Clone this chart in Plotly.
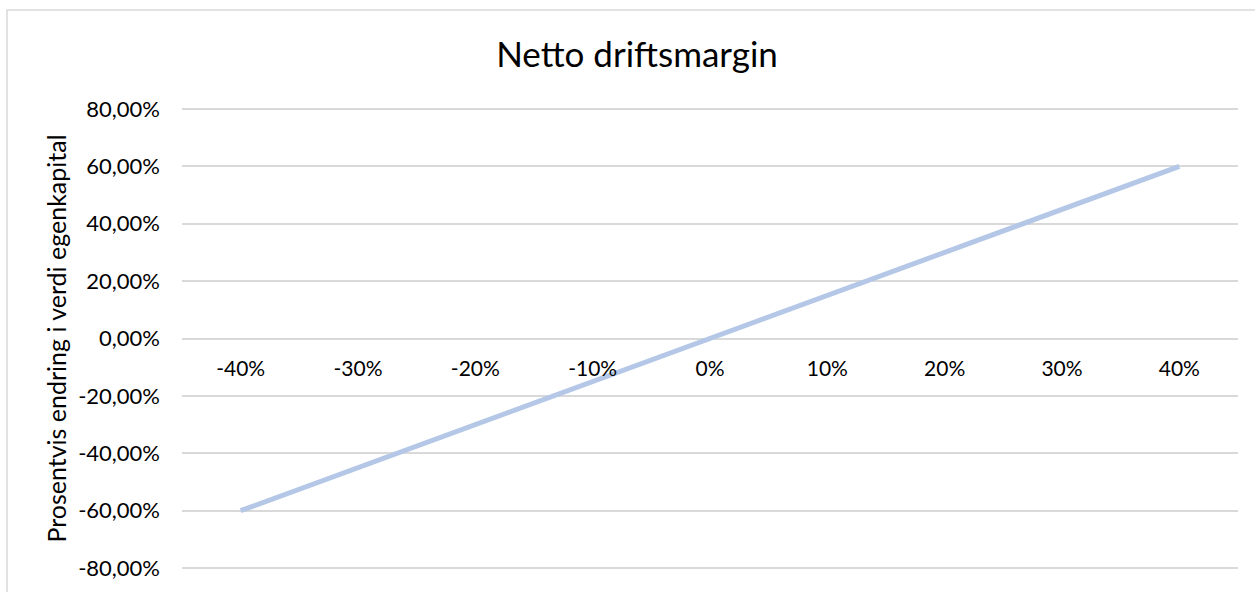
import plotly.graph_objects as go

categories = ["-40%", "-30%", "-20%", "-10%", "0%", "10%", "20%", "30%", "40%"]
values = [-0.60, -0.45, -0.30, -0.15, 0.0, 0.15, 0.30, 0.45, 0.60]
y_tickvals = [-0.8, -0.6, -0.4, -0.2, 0.0, 0.2, 0.4, 0.6, 0.8]
y_ticktext = ["-80,00%", "-60,00%", "-40,00%", "-20,00%", "0,00%",
              "20,00%", "40,00%", "60,00%", "80,00%"]

W, H = 1255, 592
L, R, T, B = 182, 17, 106, 21
pw = W - L - R
ph = H - T - B

FONT = "Lato"

fig = go.Figure()
fig.add_trace(go.Scatter(
    x=categories, y=values, mode="lines",
    line=dict(color="#B4C7E7", width=5),
    hoverinfo="skip", showlegend=False,
))

# chart border (outer frame)
fig.add_shape(type="rect", xref="paper", yref="paper",
              x0=(7 - L) / pw, x1=(W + 20 - L) / pw,
              y0=-(B + 20) / ph, y1=(H - B - 10) / ph,
              line=dict(color="#D9D9D9", width=1.5), layer="below")

fig.update_layout(
    width=W, height=H,
    margin=dict(l=L, r=R, t=T, b=B, autoexpand=False),
    paper_bgcolor="white", plot_bgcolor="white",
    font=dict(family=FONT, color="#000000", size=21),
    title=dict(text="Netto driftsmargin", x=637 / W, xref="container",
               xanchor="center", y=1 - 55 / H, yref="container", yanchor="middle",
               font=dict(family=FONT, size=35, color="#000000")),
    separators=", ",
)
fig.update_xaxes(
    type="category", range=[-0.5, len(categories) - 0.5],
    anchor="free", position=0.5,
    showgrid=False, showline=False, zeroline=False, ticks="",
    ticklabelstandoff=15,
    tickfont=dict(family=FONT, size=21, color="#000000"),
)
fig.update_yaxes(
    range=[-0.81, 0.81], tickvals=y_tickvals, ticktext=y_ticktext,
    showgrid=True, gridcolor="#D9D9D9", gridwidth=1.5,
    zeroline=False, showline=False, ticks="",
    ticklabelstandoff=21,
    tickfont=dict(family=FONT, size=22, color="#000000"),
    title=dict(text="Prosentvis endring i verdi egenkapital", standoff=4,
               font=dict(family=FONT, size=25, color="#000000")),
)

fig.write_html("out.html")
